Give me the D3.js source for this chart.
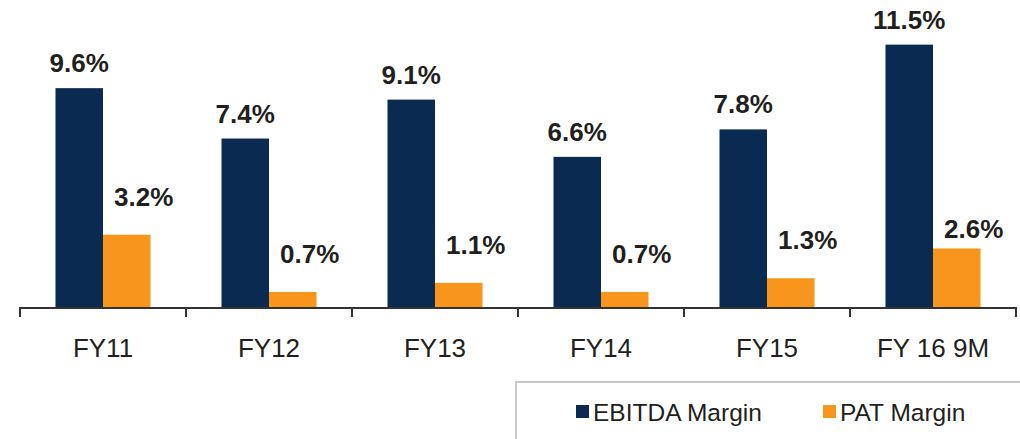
<!DOCTYPE html>
<html>
<head>
<meta charset="utf-8">
<script src="https://cdn.jsdelivr.net/npm/d3@7"></script>
<style>
  html, body { margin: 0; padding: 0; background: #fff; }
  svg { display: block; font-family: "Liberation Sans", Arial, sans-serif; }
</style>
</head>
<body>
<svg id="chart" width="1020" height="439"></svg>
<script>
const categories = ["FY11", "FY12", "FY13", "FY14", "FY15", "FY 16 9M"];
const ebitdaMargin = [9.6, 7.4, 9.1, 6.6, 7.8, 11.5];
const patMargin = [3.2, 0.7, 1.1, 0.7, 1.3, 2.6];
const seriesNames = ["EBITDA Margin", "PAT Margin"];
const seriesColors = ["#0B2A52", "#F7951D"];

const svg = d3.select("#chart");
const baseY = 308;

const x0 = d3.scaleBand().domain(categories).range([20, 1016]).padding(0);
const x1 = d3.scaleBand().domain(seriesNames).range([0, x0.bandwidth()]).paddingInner(0).paddingOuter(0.747);
const y = d3.scaleLinear().domain([0, 12]).range([baseY, baseY - 12 * 22.9]);

const rows = categories.map((c, i) => ({ cat: c, values: [ebitdaMargin[i], patMargin[i]] }));

const groups = svg.selectAll("g.cat").data(rows).join("g")
  .attr("class", "cat")
  .attr("transform", d => `translate(${x0(d.cat)},0)`);

groups.selectAll("rect").data(d => d.values.map((v, k) => ({ v, k })))
  .join("rect")
  .attr("x", d => x1(seriesNames[d.k]))
  .attr("width", x1.bandwidth())
  .attr("y", d => y(d.v))
  .attr("height", d => baseY - y(d.v))
  .attr("fill", d => seriesColors[d.k]);

// value labels
groups.each(function(d, i) {
  const g = d3.select(this);
  // EBITDA label
  g.append("text")
    .attr("x", x1(seriesNames[0]) + x1.bandwidth() / 2)
    .attr("y", y(d.values[0]) - 16)
    .attr("text-anchor", "middle")
    .attr("font-size", 26).attr("font-weight", "bold").attr("fill", "#231f20")
    .text(d.values[0].toFixed(1) + "%");
  const gap = i === categories.length - 1 ? 10 : 29;
  g.append("text")
    .attr("x", x1(seriesNames[1]) + x1.bandwidth() / 2 + 17)
    .attr("y", y(d.values[1]) - gap)
    .attr("text-anchor", "middle")
    .attr("font-size", 26).attr("font-weight", "bold").attr("fill", "#231f20")
    .text(d.values[1].toFixed(1) + "%");
});

// x axis
const axisG = svg.append("g").attr("transform", `translate(0,${baseY})`);
axisG.append("line")
  .attr("x1", 20).attr("x2", 1017).attr("y1", 0).attr("y2", 0)
  .attr("stroke", "#333").attr("stroke-width", 2);
const boundaries = categories.map(c => x0(c)).concat([x0(categories[categories.length - 1]) + x0.bandwidth()]);
axisG.selectAll("line.tick").data(boundaries).join("line")
  .attr("class", "tick")
  .attr("x1", d => d).attr("x2", d => d)
  .attr("y1", -1).attr("y2", 9)
  .attr("stroke", "#333").attr("stroke-width", 2);
axisG.selectAll("text").data(categories).join("text")
  .attr("x", d => x0(d) + x0.bandwidth() / 2)
  .attr("y", 49)
  .attr("text-anchor", "middle")
  .attr("font-size", 26).attr("fill", "#231f20")
  .text(d => d);

// legend
svg.append("rect")
  .attr("x", 516).attr("y", 382).attr("width", 520).attr("height", 80)
  .attr("fill", "#fff").attr("stroke", "#c8c8c8").attr("stroke-width", 2);
const legendX = [576, 823];
seriesNames.forEach((n, k) => {
  svg.append("rect")
    .attr("x", legendX[k]).attr("y", 405).attr("width", 13).attr("height", 13)
    .attr("fill", seriesColors[k]);
  svg.append("text")
    .attr("x", legendX[k] + 17).attr("y", 421)
    .attr("font-size", 24.5).attr("fill", "#231f20")
    .text(n);
});
</script>
</body>
</html>
